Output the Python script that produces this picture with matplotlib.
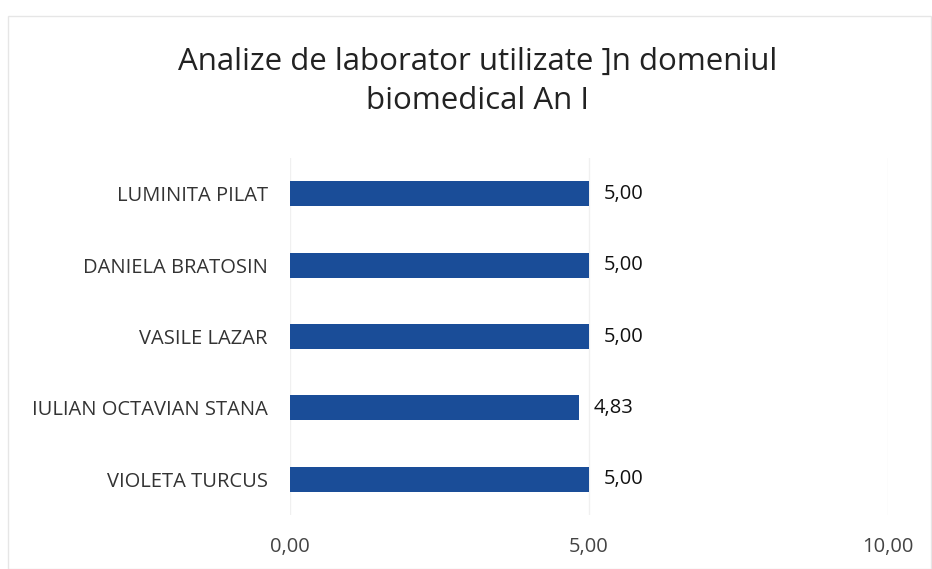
import matplotlib.pyplot as plt

names = ['VIOLETA TURCUS', 'IULIAN OCTAVIAN STANA', 'VASILE LAZAR',
         'DANIELA BRATOSIN', 'LUMINITA PILAT']
scores = [5.00, 4.83, 5.00, 5.00, 5.00]
x_ticks = [0, 5, 10]

plt.rcParams['font.family'] = ['Open Sans', 'DejaVu Sans']

fig = plt.figure(figsize=(9.32, 5.69), dpi=100)
ax = fig.add_axes([0.311, 0.095, 0.642, 0.627])

bars = ax.barh(range(len(names)), scores, height=0.35, color='#1a4d98')
for i, v in enumerate(scores):
    ax.text(v + 0.25, i, ('%.2f' % v).replace('.', ','), va='center', ha='left',
            fontsize=14.5, color='#111111')

ax.set_xlim(0, 10)
ax.set_ylim(-0.5, 4.5)
ax.set_xticks(x_ticks)
ax.set_xticklabels([('%.2f' % t).replace('.', ',') for t in x_ticks], fontsize=14.5, color='#444444')
ax.set_yticks(range(len(names)))
ax.set_yticklabels(names, fontsize=14.5, color='#333333')
ax.tick_params(axis='x', length=0, pad=16)
ax.tick_params(axis='y', length=0, pad=16)
for s in ax.spines.values():
    s.set_visible(False)
ax.grid(axis='x', color='#f0f0f0', linewidth=1)
ax.set_axisbelow(True)

fig.text(0.512, 0.857, 'Analize de laborator utilizate ]n domeniul\nbiomedical An I',
         ha='center', va='center', fontsize=22.5, color='#222222', linespacing=1.38)

fig.patches.append(plt.Rectangle((0.009, 0.0), 0.99, 0.972, transform=fig.transFigure,
                                 fill=False, edgecolor='#e6e6e6', linewidth=1))

fig.savefig('out.png', dpi=100)
